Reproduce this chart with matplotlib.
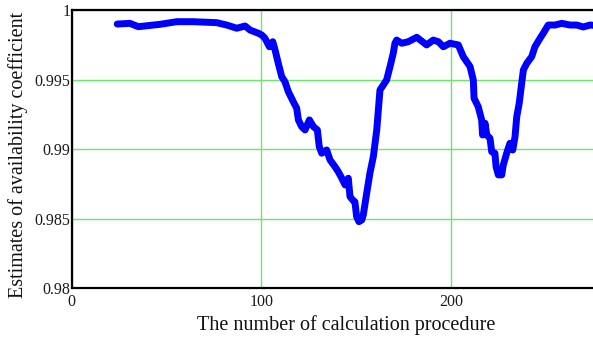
import matplotlib
matplotlib.use("Agg")
import matplotlib.pyplot as plt

steps = [24.0, 30.7, 35.1, 46.5, 55.4, 63.9, 76.4, 81.7, 87.0, 91.4, 94.0, 98.4,
         100.2, 101.9, 104.2, 106.0, 107.2, 108.9, 110.7, 112.4, 114.2, 116.8, 118.6,
         119.5, 121.2, 123.0, 125.3, 127.4, 129.5, 130.5, 131.8, 134.4, 136.2, 138.8,
         140.5, 142.3, 144.1, 145.8, 146.7, 148.1, 149.3, 150.2, 151.4, 152.9, 153.7,
         155.5, 157.2, 159.0, 160.8, 162.5, 166.0, 167.8, 169.5, 170.4, 171.3, 174.0,
         177.4, 181.9, 187.1, 190.6, 193.3, 195.9, 199.4, 203.8, 206.4, 210.0, 211.7,
         212.1, 214.3, 216.1, 216.6, 217.9, 218.8, 220.5, 221.4, 223.1, 223.7, 224.9,
         226.7, 227.5, 229.3, 231.0, 232.5, 233.7, 234.6, 235.9, 237.2, 238.1, 239.9,
         242.5, 244.2, 246.9, 248.6, 251.2, 254.8, 258.3, 262.7, 266.2, 269.7, 273.2, 275.0]
availability = [0.99899, 0.99904, 0.99880, 0.99897, 0.99916, 0.99916, 0.99909, 0.99892,
                0.99869, 0.99885, 0.99856, 0.99833, 0.99820, 0.99797, 0.99736, 0.99772,
                0.99713, 0.99617, 0.99521, 0.99485, 0.99413, 0.99341, 0.99294, 0.99210,
                0.99162, 0.99138, 0.99210, 0.99162, 0.99138, 0.99018, 0.98971, 0.98994,
                0.98922, 0.98874, 0.98838, 0.98793, 0.98743, 0.98791, 0.98659, 0.98635,
                0.98621, 0.98515, 0.98479, 0.98491, 0.98527, 0.98683, 0.98827, 0.98946,
                0.99138, 0.99425, 0.99497, 0.99593, 0.99689, 0.99761, 0.99784, 0.99761,
                0.99772, 0.99804, 0.99749, 0.99784, 0.99772, 0.99736, 0.99761, 0.99749,
                0.99665, 0.99593, 0.99497, 0.99366, 0.99305, 0.99210, 0.99102, 0.99186,
                0.99102, 0.99078, 0.98982, 0.98971, 0.98874, 0.98815, 0.98815, 0.98886,
                0.98971, 0.99042, 0.98994, 0.99090, 0.99233, 0.99330, 0.99473, 0.99569,
                0.99617, 0.99665, 0.99736, 0.99797, 0.99833, 0.99892, 0.99892, 0.99904,
                0.99892, 0.99892, 0.99878, 0.99892, 0.99890]

x_ticks = [0, 100, 200]
x_tick_labels = ["0", "100", "200"]
y_ticks = [0.98, 0.985, 0.99, 0.995, 1.0]
y_tick_labels = ["0.98", "0.985", "0.99", "0.995", "1"]

plt.rcParams['font.family'] = ['Liberation Serif', 'DejaVu Serif']

fig = plt.figure(figsize=(5.93, 3.37), dpi=100)
ax = fig.add_axes([71.7 / 593, 48.7 / 337, 1 - 71.7 / 593, 278.3 / 337])

ax.plot(steps, availability, color='#0000ff', lw=5, solid_joinstyle='round',
        solid_capstyle='round', zorder=3)

ax.set_xlim(0, 274.8)
ax.set_ylim(0.98, 1.0)
ax.set_xticks(x_ticks)
ax.set_xticklabels(x_tick_labels)
ax.set_yticks(y_ticks)
ax.set_yticklabels(y_tick_labels)
ax.tick_params(axis='both', length=0, labelsize=11.5, colors='#1a1a1a')
ax.tick_params(axis='y', pad=1)
ax.tick_params(axis='x', pad=4)

ax.grid(True, color='#6ae86a', lw=1.0, zorder=1)

for s in ['left', 'top', 'bottom']:
    ax.spines[s].set_linewidth(1.6)
    ax.spines[s].set_color('black')
ax.spines['right'].set_visible(False)

ax.set_xlabel("The number of calculation procedure", fontsize=14.5, color='#111111')
ax.xaxis.set_label_coords(0.526, -0.097)
ax.set_ylabel("Estimates of availability coefficient", fontsize=14.5, color='#111111')
ax.yaxis.set_label_coords(-0.084, 0.48)

fig.savefig("out.png", dpi=100)
